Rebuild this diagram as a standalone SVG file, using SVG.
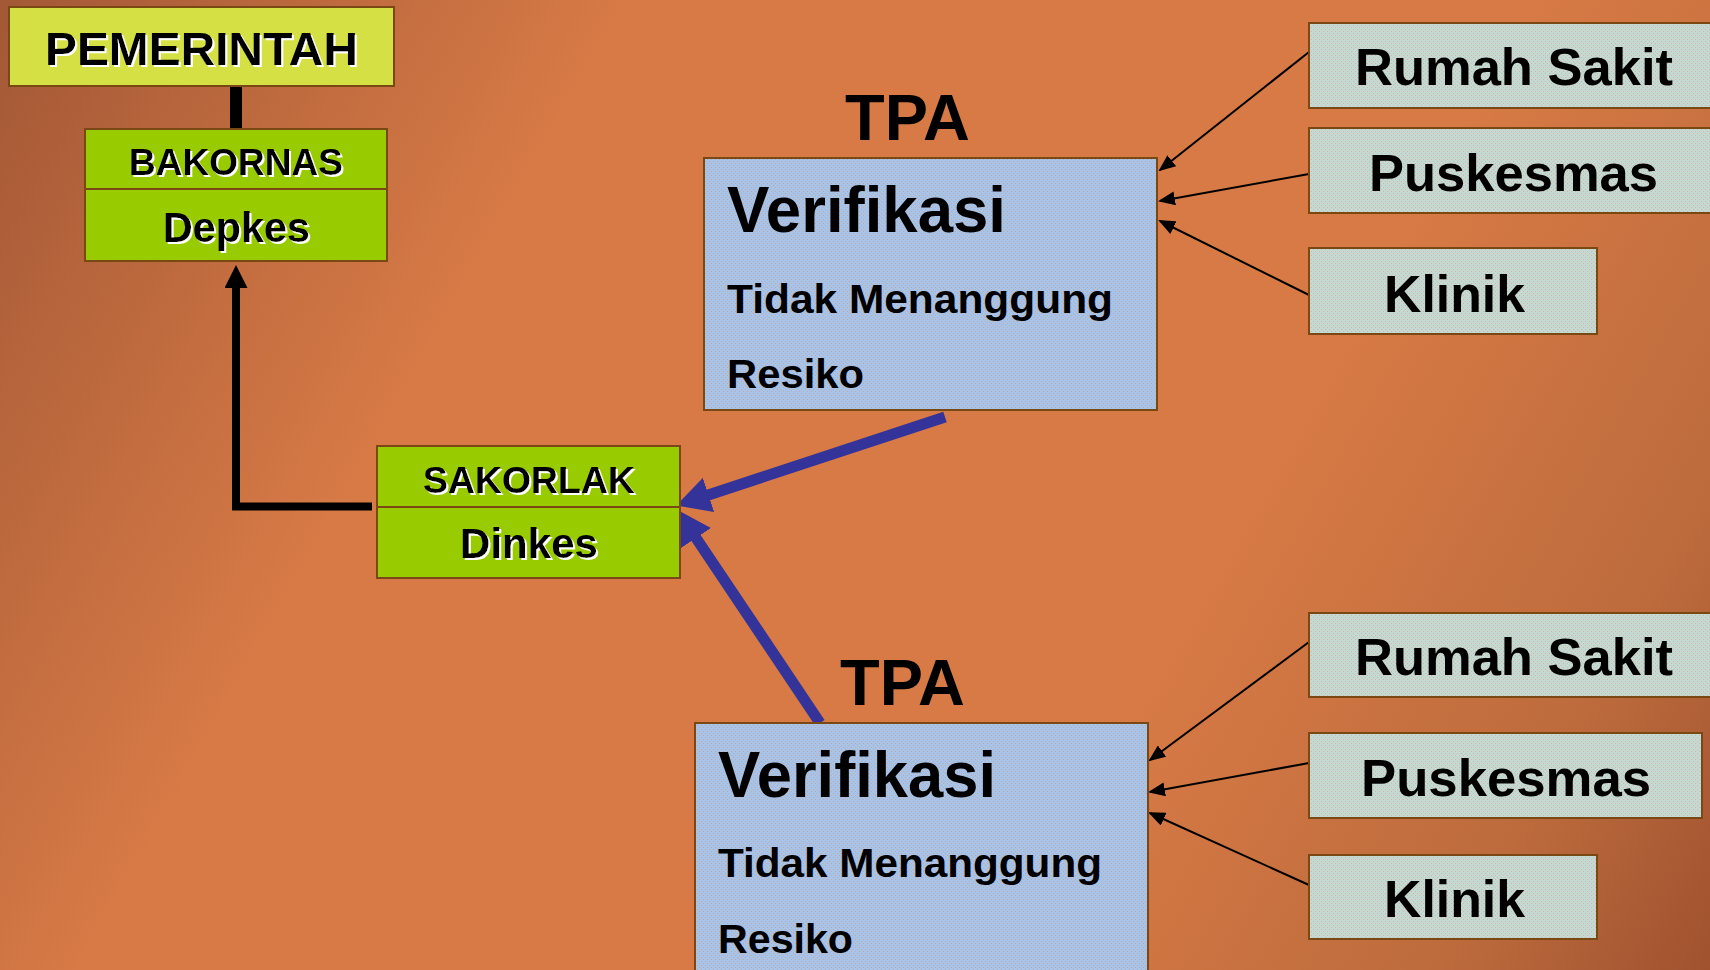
<svg xmlns="http://www.w3.org/2000/svg" width="1710" height="970" viewBox="0 0 1710 970">
<defs>
<linearGradient id="bg" gradientUnits="userSpaceOnUse" x1="0" y1="0" x2="1710" y2="970">
<stop offset="0" stop-color="#a35836"/>
<stop offset="0.28" stop-color="#d77a46"/>
<stop offset="0.68" stop-color="#d77a45"/>
<stop offset="0.88" stop-color="#bd6b3d"/>
<stop offset="1" stop-color="#a0522f"/>
</linearGradient>
<pattern id="blueTex" width="4" height="4" patternUnits="userSpaceOnUse">
<rect width="4" height="4" fill="#a6c3ea"/>
<rect x="1" y="1" width="1" height="1" fill="#c9a89f"/>
<rect x="3" y="3" width="1" height="1" fill="#c9a89f"/>
</pattern>
<pattern id="mintTex" width="4" height="4" patternUnits="userSpaceOnUse">
<rect width="4" height="4" fill="#c3d9d3"/>
<rect x="1" y="1" width="1" height="1" fill="#d9b4a3"/>
<rect x="3" y="3" width="1" height="1" fill="#d9b4a3"/>
</pattern>
<filter id="wshadow" x="-10%" y="-20%" width="130%" height="150%">
<feDropShadow dx="2" dy="2" stdDeviation="0" flood-color="#ffffff" flood-opacity="1"/>
</filter>
<marker id="thinHead" markerUnits="userSpaceOnUse" markerWidth="17" markerHeight="14" viewBox="0 0 17 14" refX="15" refY="7" orient="auto">
<path d="M0,0 L17,7 L0,14 z" fill="#000"/>
</marker>
<marker id="blueHead" markerUnits="userSpaceOnUse" markerWidth="34" markerHeight="36" viewBox="0 0 34 36" refX="9" refY="18" orient="auto">
<path d="M0,0 L34,18 L0,36 z" fill="#333399"/>
</marker>
<marker id="blackHead" markerUnits="userSpaceOnUse" markerWidth="23" markerHeight="23" viewBox="0 0 23 23" refX="13" refY="11.5" orient="auto">
<path d="M0,0 L23,11.5 L0,23 z" fill="#000"/>
</marker>
</defs>
<style>
.box{stroke:#7a4813;stroke-width:2}
.t{font-family:"Liberation Sans",Arial,sans-serif;font-weight:bold;fill:#000}
.sh{filter:url(#wshadow)}
.thin{stroke:#000;stroke-width:2;fill:none;marker-end:url(#thinHead)}
.blue{stroke:#333399;stroke-width:11;fill:none;marker-end:url(#blueHead)}
</style>
<rect width="1710" height="970" fill="url(#bg)"/>

<g id="connectors">
<line x1="236" y1="86" x2="236" y2="129" stroke="#000" stroke-width="12"/>
<polyline points="372,506.5 236,506.5 236,275" fill="none" stroke="#000" stroke-width="8" stroke-linejoin="miter" marker-end="url(#blackHead)"/>
<line class="blue" x1="945" y1="417" x2="700" y2="497.7"/>
<line class="blue" x1="820" y1="723" x2="691" y2="530.5"/>
<line class="thin" x1="1309" y1="52" x2="1160" y2="170"/>
<line class="thin" x1="1309" y1="174" x2="1160" y2="201"/>
<line class="thin" x1="1309" y1="295" x2="1160" y2="221"/>
<line class="thin" x1="1309" y1="642" x2="1150" y2="760"/>
<line class="thin" x1="1309" y1="763" x2="1150" y2="792"/>
<line class="thin" x1="1309" y1="885" x2="1150" y2="813"/>
</g>

<g id="pemerintah">
<rect class="box" x="9" y="7" width="385" height="79" fill="#d4e044"/>
<text class="t sh" x="45" y="65" font-size="47" textLength="313" lengthAdjust="spacingAndGlyphs">PEMERINTAH</text>
</g>

<g id="bakornas">
<rect class="box" x="85" y="129" width="302" height="60" fill="#99cc00"/>
<text class="t sh" x="129" y="175" font-size="37" textLength="214" lengthAdjust="spacingAndGlyphs">BAKORNAS</text>
</g>
<g id="depkes">
<rect class="box" x="85" y="189" width="302" height="72" fill="#99cc00"/>
<text class="t sh" x="163" y="242" font-size="42" textLength="147" lengthAdjust="spacingAndGlyphs">Depkes</text>
</g>

<g id="sakorlak">
<rect class="box" x="377" y="446" width="303" height="61" fill="#99cc00"/>
<text class="t sh" x="423" y="493" font-size="37" textLength="212" lengthAdjust="spacingAndGlyphs">SAKORLAK</text>
</g>
<g id="dinkes">
<rect class="box" x="377" y="507" width="303" height="71" fill="#99cc00"/>
<text class="t sh" x="460" y="558" font-size="42" textLength="138" lengthAdjust="spacingAndGlyphs">Dinkes</text>
</g>

<g id="tpa1">
<text class="t" x="845" y="140" font-size="65" textLength="125" lengthAdjust="spacingAndGlyphs">TPA</text>
<rect class="box" x="704" y="158" width="453" height="252" fill="url(#blueTex)"/>
<text class="t" x="727" y="232" font-size="65" textLength="279" lengthAdjust="spacingAndGlyphs">Verifikasi</text>
<text class="t" x="727" y="313" font-size="41" textLength="386" lengthAdjust="spacingAndGlyphs">Tidak Menanggung</text>
<text class="t" x="727" y="388" font-size="40" textLength="137" lengthAdjust="spacingAndGlyphs">Resiko</text>
</g>

<g id="tpa2">
<text class="t" x="840" y="705" font-size="65" textLength="125" lengthAdjust="spacingAndGlyphs">TPA</text>
<rect class="box" x="695" y="723" width="453" height="260" fill="url(#blueTex)"/>
<text class="t" x="718" y="797" font-size="65" textLength="278" lengthAdjust="spacingAndGlyphs">Verifikasi</text>
<text class="t" x="718" y="877" font-size="41" textLength="384" lengthAdjust="spacingAndGlyphs">Tidak Menanggung</text>
<text class="t" x="718" y="953" font-size="40" textLength="135" lengthAdjust="spacingAndGlyphs">Resiko</text>
</g>

<g id="rs1">
<rect class="box" x="1309" y="23" width="420" height="85" fill="url(#mintTex)"/>
<text class="t" x="1355" y="85" font-size="52" textLength="318" lengthAdjust="spacingAndGlyphs">Rumah Sakit</text>
</g>
<g id="puskesmas1">
<rect class="box" x="1309" y="128" width="420" height="85" fill="url(#mintTex)"/>
<text class="t" x="1369" y="191" font-size="52" textLength="289" lengthAdjust="spacingAndGlyphs">Puskesmas</text>
</g>
<g id="klinik1">
<rect class="box" x="1309" y="248" width="288" height="86" fill="url(#mintTex)"/>
<text class="t" x="1384" y="312" font-size="52" textLength="141" lengthAdjust="spacingAndGlyphs">Klinik</text>
</g>

<g id="rs2">
<rect class="box" x="1309" y="613" width="420" height="84" fill="url(#mintTex)"/>
<text class="t" x="1355" y="675" font-size="52" textLength="318" lengthAdjust="spacingAndGlyphs">Rumah Sakit</text>
</g>
<g id="puskesmas2">
<rect class="box" x="1309" y="733" width="393" height="85" fill="url(#mintTex)"/>
<text class="t" x="1361" y="796" font-size="52" textLength="290" lengthAdjust="spacingAndGlyphs">Puskesmas</text>
</g>
<g id="klinik2">
<rect class="box" x="1309" y="855" width="288" height="84" fill="url(#mintTex)"/>
<text class="t" x="1384" y="917" font-size="52" textLength="141" lengthAdjust="spacingAndGlyphs">Klinik</text>
</g>
</svg>
